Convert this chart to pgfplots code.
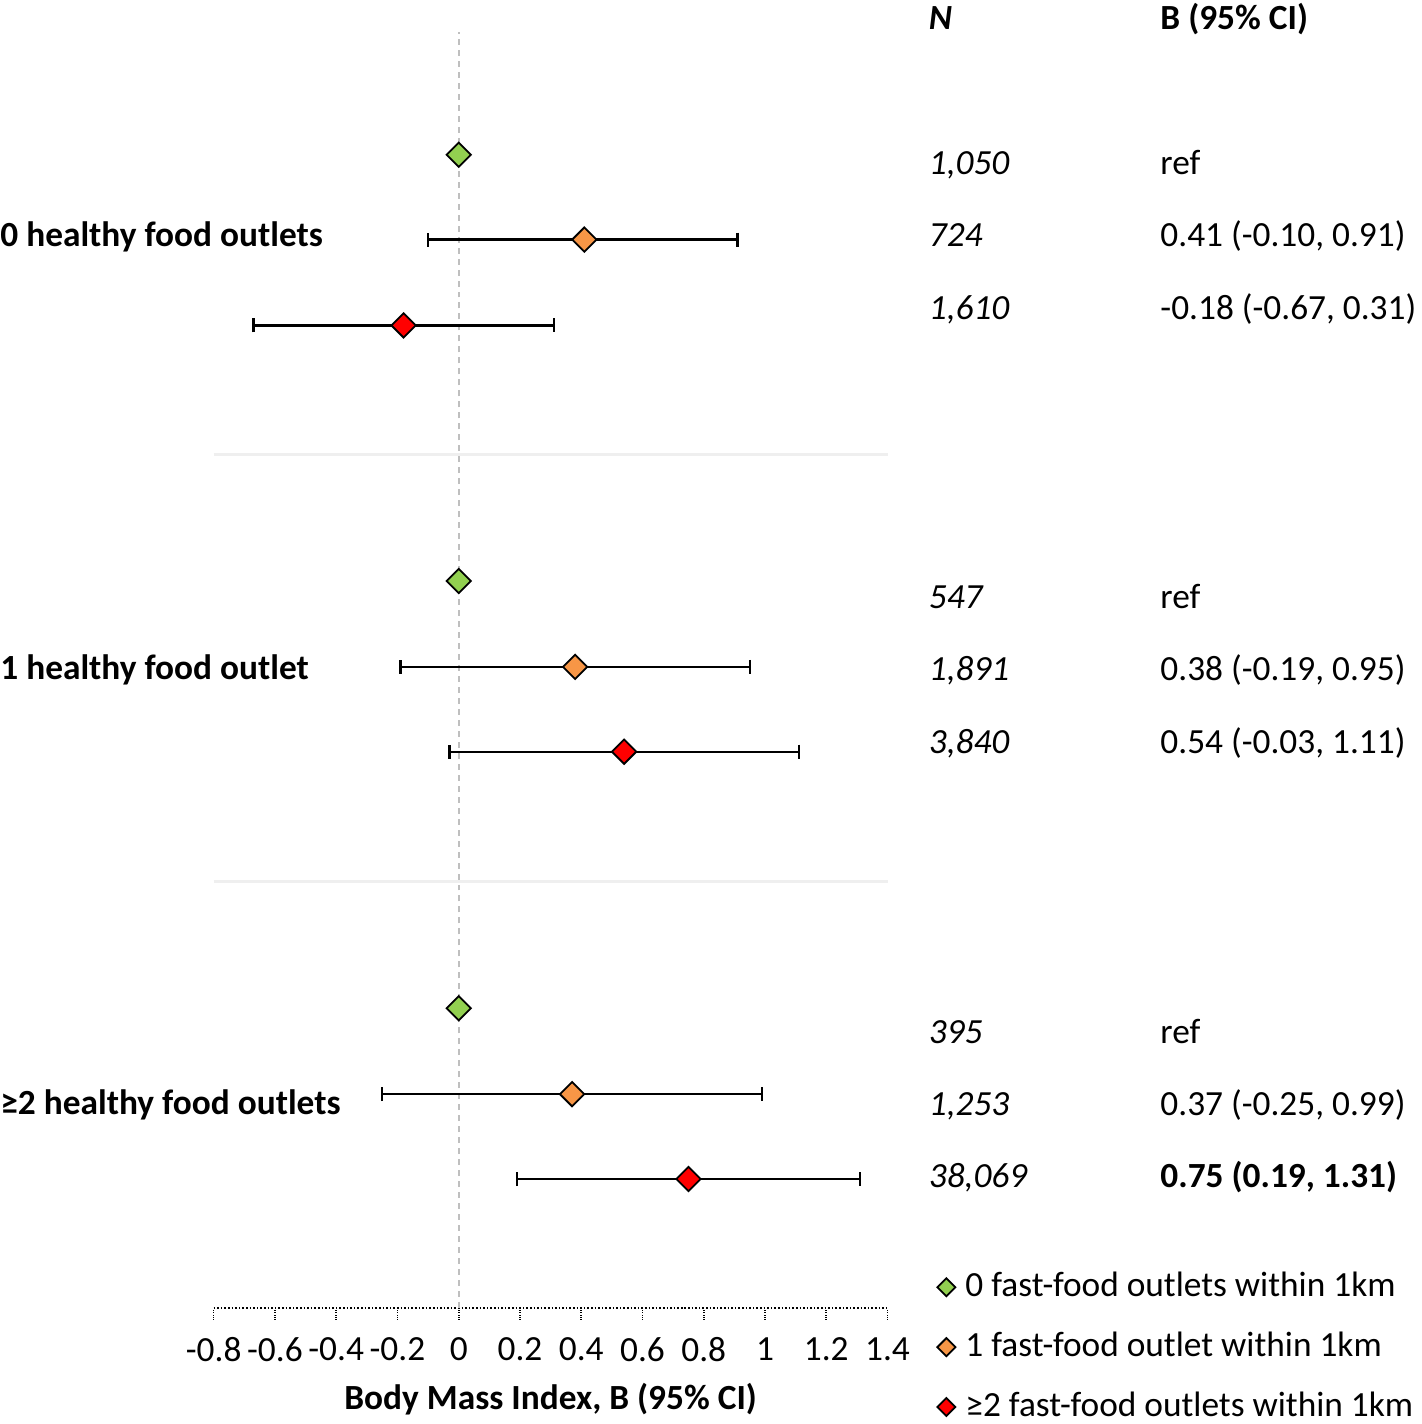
\documentclass[border=0pt]{standalone}
\usepackage{fontspec}
\setmainfont{Carlito}
\usepackage{pgfplots}
\pgfplotsset{compat=1.18}
\usepackage{pgfplotstable}

\definecolor{cgreen}{HTML}{92D050}
\definecolor{corange}{HTML}{F79646}
\definecolor{cred}{HTML}{FF0000}
\definecolor{cdash}{HTML}{BFBFBF}
\definecolor{csep}{HTML}{EFEFEF}

\newcommand{\fs}{\fontsize{17.7}{21.2}\selectfont}

\pgfplotstableread{
x y
0 1265
0 838
0 410
}\greendata
\pgfplotstableread{
x y lo hi
0.41 1180 -0.10 0.91
0.38 752 -0.19 0.95
0.37 324 -0.25 0.99
}\orangedata
\pgfplotstableread{
x y lo hi
-0.18 1094 -0.67 0.31
0.54 667 -0.03 1.11
0.75 239 0.19 1.31
}\reddata

\begin{document}
\begin{tikzpicture}[txt/.style={anchor=base west, inner sep=0pt}]
\begin{axis}[
  x=153.4pt, y=0.5pt,
  xmin=-0.8, xmax=1.4, ymin=110, ymax=1388,
  axis x line*=bottom, axis y line=none,
  axis line style={black, densely dotted, line width=0.8pt},
  xtick={-0.8,-0.6,-0.4,-0.2,0,0.2,0.4,0.6,0.8,1,1.2,1.4},
  xticklabels={-0.8,-0.6,-0.4,-0.2,0,0.2,0.4,0.6,0.8,1,1.2,1.4},
  tick align=outside, major tick length=6pt,
  major tick style={black, densely dotted, line width=0.8pt},
  xticklabel style={font=\fs, yshift=-5.3pt},
  clip=false,
  legend style={at={(axis cs:1.5614,148)}, anchor=north west, draw=none, fill=none,
    inner sep=0pt, row sep=13pt, column sep=5pt, font=\fs,
    nodes={inner sep=0pt, text height=13pt, text depth=4pt}},
  legend cell align=left,
  legend image code/.code={\draw[#1, mark size=3.2pt] plot coordinates {(0cm,0cm)};},
]
% page extent
\path (axis cs:-1.4977,0) rectangle (axis cs:3.1437,1420);
% separators
\addplot[csep, line width=1.6pt, forget plot] coordinates {(-0.8,965) (1.4,965)};
\addplot[csep, line width=1.6pt, forget plot] coordinates {(-0.8,537) (1.4,537)};
% zero line
\addplot[cdash, line width=0.9pt, dash pattern=on 3pt off 2.5pt, forget plot] coordinates {(0,110) (0,1388)};

\addplot[only marks, mark=square*, mark size=4.3pt,
  mark options={rotate=45, fill=cgreen, draw=black, line width=0.9pt}]
  table[x=x, y=y] {\greendata};
\addlegendentry{0 fast-food outlets within 1km}

\addplot[only marks, mark=square*, mark size=4.3pt,
  mark options={rotate=45, fill=corange, draw=black, line width=0.9pt},
  error bars/.cd, x dir=both, x explicit,
  error bar style={black, line width=1.1pt},
  error mark options={rotate=90, black, line width=1.1pt, mark size=3.5pt}]
  table[x=x, y=y, x error plus expr=\thisrow{hi}-\thisrow{x}, x error minus expr=\thisrow{x}-\thisrow{lo}] {\orangedata};
\addlegendentry{1 fast-food outlet within 1km}

\addplot[only marks, mark=square*, mark size=4.3pt,
  mark options={rotate=45, fill=cred, draw=black, line width=0.9pt},
  error bars/.cd, x dir=both, x explicit,
  error bar style={black, line width=1.1pt},
  error mark options={rotate=90, black, line width=1.1pt, mark size=3.5pt}]
  table[x=x, y=y, x error plus expr=\thisrow{hi}-\thisrow{x}, x error minus expr=\thisrow{x}-\thisrow{lo}] {\reddata};
\addlegendentry{≥2 fast-food outlets within 1km}

% headers
\node[txt, font=\fs\bfseries\itshape] at (axis cs:1.5336,1390) {N};
\node[txt, font=\fs\bfseries] at (axis cs:2.2898,1390) {B (95\% CI)};
% group labels
\node[txt, font=\fs\bfseries] at (axis cs:-1.4977,1173) {0 healthy food outlets};
\node[txt, font=\fs\bfseries] at (axis cs:-1.4977,739) {1 healthy food outlet};
\node[txt, font=\fs\bfseries] at (axis cs:-1.4977,304) {≥2 healthy food outlets};
% N column
\node[txt, font=\fs\itshape] at (axis cs:1.5336,1245) {1,050};
\node[txt, font=\fs\itshape] at (axis cs:1.5336,1173) {724};
\node[txt, font=\fs\itshape] at (axis cs:1.5336,1100) {1,610};
\node[txt, font=\fs\itshape] at (axis cs:1.5336,810) {547};
\node[txt, font=\fs\itshape] at (axis cs:1.5336,738) {1,891};
\node[txt, font=\fs\itshape] at (axis cs:1.5336,665) {3,840};
\node[txt, font=\fs\itshape] at (axis cs:1.5336,375) {395};
\node[txt, font=\fs\itshape] at (axis cs:1.5336,303) {1,253};
\node[txt, font=\fs\itshape] at (axis cs:1.5336,230) {38,069};
% B column
\node[txt, font=\fs] at (axis cs:2.2898,1245) {ref};
\node[txt, font=\fs] at (axis cs:2.2898,1173) {0.41 (-0.10, 0.91)};
\node[txt, font=\fs] at (axis cs:2.2898,1100) {-0.18 (-0.67, 0.31)};
\node[txt, font=\fs] at (axis cs:2.2898,810) {ref};
\node[txt, font=\fs] at (axis cs:2.2898,738) {0.38 (-0.19, 0.95)};
\node[txt, font=\fs] at (axis cs:2.2898,665) {0.54 (-0.03, 1.11)};
\node[txt, font=\fs] at (axis cs:2.2898,375) {ref};
\node[txt, font=\fs] at (axis cs:2.2898,303) {0.37 (-0.25, 0.99)};
\node[txt, font=\fs\bfseries] at (axis cs:2.2898,230) {0.75 (0.19, 1.31)};
% x label
\node[anchor=base, inner sep=0pt, font=\fs\bfseries] at (axis cs:0.3,8) {Body Mass Index, B (95\% CI)};
\end{axis}
\end{tikzpicture}
\end{document}
